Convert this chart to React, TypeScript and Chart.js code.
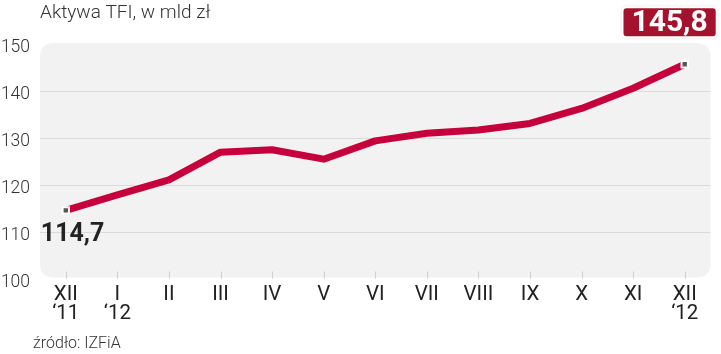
import React, { useEffect, useRef } from "react";
import { Chart, registerables } from "chart.js";

Chart.register(...registerables);

const months: (string | string[])[] = [
  ["XII", "\u201811"],
  ["I", "\u201812"],
  "II",
  "III",
  "IV",
  "V",
  "VI",
  "VII",
  "VIII",
  "IX",
  "X",
  "XI",
  ["XII", "\u201812"],
];
const assets: number[] = [114.7, 118.0, 121.2, 127.1, 127.6, 125.6, 129.5, 131.1, 131.8, 133.2, 136.4, 140.7, 145.8];
const firstLabel = "114,7";
const lastLabel = "145,8";
const title = "Aktywa TFI, w mld zł";
const source = "źródło: IZFiA";

const FONT = "Roboto, 'Liberation Sans', sans-serif";

function roundRect(ctx: CanvasRenderingContext2D, x: number, y: number, w: number, h: number, r: number) {
  ctx.beginPath();
  ctx.moveTo(x + r, y);
  ctx.lineTo(x + w - r, y);
  ctx.quadraticCurveTo(x + w, y, x + w, y + r);
  ctx.lineTo(x + w, y + h - r);
  ctx.quadraticCurveTo(x + w, y + h, x + w - r, y + h);
  ctx.lineTo(x + r, y + h);
  ctx.quadraticCurveTo(x, y + h, x, y + h - r);
  ctx.lineTo(x, y + r);
  ctx.quadraticCurveTo(x, y, x + r, y);
  ctx.closePath();
}

const decorPlugin = {
  id: "decor",
  beforeDraw(chart: any) {
    const { ctx, chartArea } = chart;
    ctx.save();
    roundRect(ctx, chartArea.left, chartArea.top - 1.5, chartArea.right - chartArea.left, chartArea.bottom - chartArea.top - 0.5, 14);
    ctx.fillStyle = "#f2f2f2";
    ctx.fill();
    ctx.restore();
  },
  beforeDatasetsDraw(chart: any) {
    const { ctx, chartArea, scales } = chart;
    const xs = scales.x;
    ctx.save();
    ctx.strokeStyle = "#d0d0d0";
    ctx.lineWidth = 1;
    for (let i = 0; i < months.length; i++) {
      const x = Math.round(xs.getPixelForTick(i)) + 0.5;
      ctx.beginPath();
      ctx.moveTo(x, chartArea.bottom - 8);
      ctx.lineTo(x, chartArea.bottom - 1);
      ctx.stroke();
    }
    ctx.restore();
  },
  afterDraw(chart: any) {
    const { ctx, chartArea } = chart;
    const meta = chart.getDatasetMeta(0);
    const p0 = meta.data[0];
    const pN = meta.data[meta.data.length - 1];
    ctx.save();
    // title
    ctx.fillStyle = "#333";
    ctx.font = `300 19px ${FONT}`;
    ctx.textBaseline = "middle";
    ctx.textAlign = "left";
    ctx.fillText(title, chartArea.left, 13);
    // source
    ctx.font = `300 16px ${FONT}`;
    ctx.fillText(source, 33, 344);
    // first label
    ctx.fillStyle = "#222";
    ctx.font = `bold 25px ${FONT}`;
    ctx.fillText(firstLabel, p0.x - 25, p0.y + 24);
    // last label box
    ctx.font = `bold 30px ${FONT}`;
    const tw = ctx.measureText(lastLabel).width;
    const bw = tw + 18;
    const bh = 30;
    const bx = pN.x + 32 - bw;
    const by = pN.y - 57;
    ctx.shadowColor = "rgba(0,0,0,0.35)";
    ctx.shadowBlur = 3;
    roundRect(ctx, bx, by, bw, bh, 4);
    ctx.fillStyle = "#a5122d";
    ctx.fill();
    ctx.shadowColor = "transparent";
    ctx.strokeStyle = "#ffffff";
    ctx.lineWidth = 2;
    ctx.stroke();
    ctx.fillStyle = "#ffffff";
    ctx.textAlign = "center";
    ctx.fillText(lastLabel, bx + bw / 2, by + bh / 2 + 1);
    ctx.restore();
  },
};

export default function App() {
  const ref = useRef<HTMLCanvasElement | null>(null);
  useEffect(() => {
    document.body.style.margin = "0";
    const canvas = ref.current!;
    const last = assets.length - 1;
    const chart = new Chart(canvas, {
      type: "line",
      data: {
        labels: months,
        datasets: [
          {
            data: assets,
            borderColor: "#c6003c",
            borderWidth: 7,
            tension: 0,
            borderJoinStyle: "round",
            borderCapStyle: "round",
            pointStyle: "rect",
            pointRadius: (c: any) => (c.dataIndex === 0 || c.dataIndex === last ? 4.5 : 0),
            pointHoverRadius: 0,
            pointBackgroundColor: "#555555",
            pointBorderColor: "#ffffff",
            pointBorderWidth: 2,
          },
        ],
      },
      options: {
        responsive: false,
        animation: false,
        devicePixelRatio: 1,
        layout: { padding: { top: 44.5, right: 10.5, bottom: 0, left: 0 } },
        plugins: { legend: { display: false }, tooltip: { enabled: false }, title: { display: false } },
        scales: {
          x: {
            offset: true,
            grid: { display: false },
            border: { display: false },
            ticks: {
              autoSkip: false,
              maxRotation: 0,
              color: "#222",
              padding: -2,
              font: { family: FONT, size: 20.5, weight: "normal", lineHeight: 0.92 },
            },
            afterFit: (s: any) => {
              s.height = 74.5;
            },
          },
          y: {
            min: 100,
            max: 150,
            border: { display: false },
            grid: {
              drawTicks: false,
              color: (c: any) => (c.tick && (c.tick.value === 100 || c.tick.value === 150) ? "rgba(0,0,0,0)" : "#dadada"),
              lineWidth: 1,
            },
            ticks: {
              stepSize: 10,
              padding: 10,
              labelOffset: 3,
              color: "#333",
              font: { family: FONT, size: 17.5, weight: "300" },
            },
            afterFit: (s: any) => {
              s.width = 40;
            },
          },
        },
      },
      plugins: [decorPlugin],
    } as any);
    return () => chart.destroy();
  }, []);
  return (
    <div style={{ position: "absolute", left: 0, top: 0, width: 721, height: 354, background: "#fff" }}>
      <canvas ref={ref} width={721} height={354} style={{ display: "block" }} />
    </div>
  );
}
